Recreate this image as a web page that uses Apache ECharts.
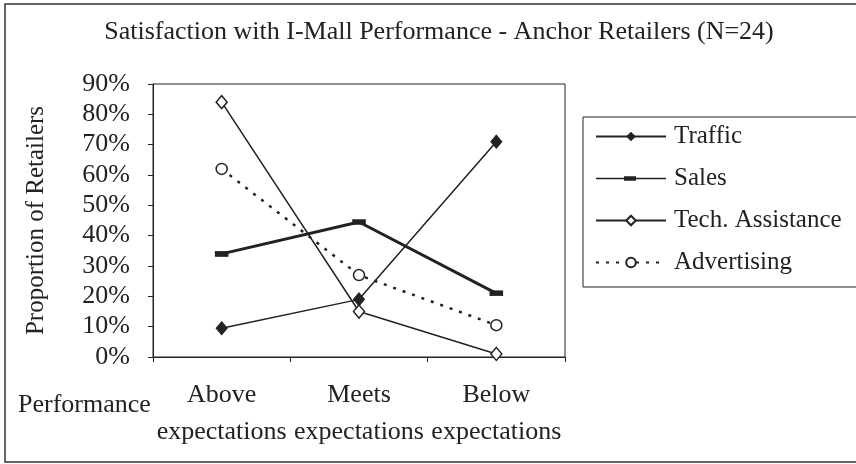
<!DOCTYPE html>
<html>
<head>
<meta charset="utf-8">
<script src="https://cdn.jsdelivr.net/npm/echarts@6/dist/echarts.min.js"></script>
<style>
  html, body { margin: 0; padding: 0; background: #fff; }
  #chart { width: 856px; height: 464px; }
</style>
</head>
<body>
<div id="chart"></div>
<script>
// categories and values (percent of retailers)
const categories = ['Above\nexpectations', 'Meets\nexpectations', 'Below\nexpectations'];
const traffic = [9.5, 19, 71];
const sales = [34, 44.5, 21];
const techAssistance = [84, 15, 1];
const advertising = [62, 27, 10.5];
const yTicks = [0, 10, 20, 30, 40, 50, 60, 70, 80, 90];

const ink = '#222';
const font = '"Liberation Serif", "Times New Roman", serif';

const chart = echarts.init(document.getElementById('chart'));
chart.setOption({
  backgroundColor: '#fff',
  animation: false,
  textStyle: { fontFamily: font, color: ink },
  title: {
    text: 'Satisfaction with I-Mall Performance - Anchor Retailers (N=24)',
    left: 434,
    textAlign: 'center',
    top: 14,
    textStyle: { fontFamily: font, fontWeight: 'normal', fontSize: 26, color: ink },
  },
  graphic: [
    {
      // outer frame of the figure
      type: 'rect',
      shape: { x: 5, y: 4, width: 870, height: 458 },
      style: { fill: 'none', stroke: '#333', lineWidth: 1.5 },
      silent: true,
    },
  ],
  legend: {
    orient: 'vertical',
    left: 583,
    top: 117,
    padding: [7, 30, 12, 12],
    itemWidth: 70,
    itemHeight: 12,
    itemGap: 17,
    borderColor: ink,
    borderWidth: 1,
    textStyle: { fontFamily: font, fontSize: 25, color: ink, padding: [0, 0, 0, 3] },
    data: [
      'Traffic',
      // short thick dash on a thin line, as in the key of the picture
      { name: 'Sales', icon: 'path://M0,5h70v1.6H0z M28,3.6h12v4.4H28z' },
      'Tech. Assistance',
      'Advertising',
    ],
  },
  grid: {
    left: 153,
    top: 84,
    right: 291,
    bottom: 107,
    containLabel: false,
    outerBoundsMode: 'none',
    show: true,
    borderColor: ink,
    borderWidth: 1,
  },
  xAxis: {
    type: 'category',
    data: categories,
    boundaryGap: true,
    name: 'Performance',
    nameLocation: 'start',
    nameGap: -8,
    nameTextStyle: { fontFamily: font, fontSize: 26, color: ink, align: 'right', verticalAlign: 'top', padding: [35, 0, 0, 0] },
    axisLine: { lineStyle: { color: ink, width: 1 } },
    axisTick: { show: true, length: 5, lineStyle: { color: ink } },
    axisLabel: {
      interval: 0,
      margin: 20,
      fontFamily: font,
      fontSize: 26,
      lineHeight: 37,
      color: ink,
    },
  },
  yAxis: {
    type: 'value',
    min: 0,
    max: 90,
    interval: 10,
    name: 'Proportion of Retailers',
    nameLocation: 'middle',
    nameGap: 104,
    nameTextStyle: { fontFamily: font, fontSize: 25, color: ink },
    axisLine: { show: true, lineStyle: { color: ink, width: 1 } },
    axisTick: { show: true, length: 5, lineStyle: { color: ink } },
    splitLine: { show: false },
    axisLabel: {
      margin: 23,
      fontFamily: font,
      fontSize: 26,
      color: ink,
      padding: [0, 0, 8, 0],
      formatter: (v) => (yTicks.includes(v) ? v + '%' : ''),
    },
  },
  series: [
    {
      name: 'Traffic',
      type: 'line',
      data: traffic,
      symbol: 'diamond',
      symbolSize: [11, 13],
      lineStyle: { color: ink, width: 1.5 },
      itemStyle: { color: ink, borderColor: ink },
    },
    {
      name: 'Sales',
      type: 'line',
      data: sales,
      symbol: 'rect',
      symbolSize: [12, 5],
      lineStyle: { color: ink, width: 3 },
      itemStyle: { color: ink, borderColor: ink },
    },
    {
      name: 'Tech. Assistance',
      type: 'line',
      data: techAssistance,
      symbol: 'diamond',
      symbolSize: [11, 13],
      lineStyle: { color: ink, width: 1.5 },
      itemStyle: { color: '#fff', borderColor: ink, borderWidth: 1.5 },
    },
    {
      name: 'Advertising',
      type: 'line',
      data: advertising,
      symbol: 'circle',
      symbolSize: 11,
      lineStyle: { color: ink, width: 2.5, type: [3, 7] },
      itemStyle: { color: '#fff', borderColor: ink, borderWidth: 1.5 },
    },
  ],
});
</script>
</body>
</html>
